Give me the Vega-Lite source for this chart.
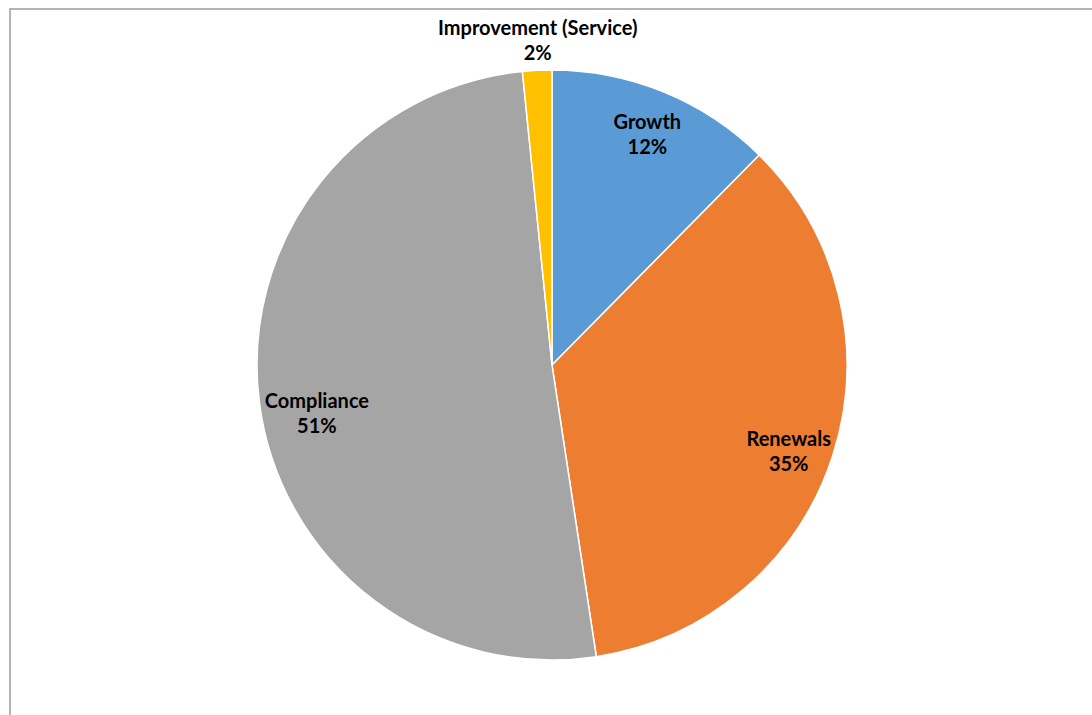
{
  "$schema": "https://vega.github.io/schema/vega-lite/v6.json",
  "autosize": "none",
  "width": 1084,
  "height": 712,
  "padding": {"left": 10, "top": 9, "right": 0, "bottom": 0},
  "background": "white",
  "view": {"stroke": "#9a9a9a", "strokeWidth": 1.5},
  "config": {"view": {"stroke": "#9a9a9a", "strokeWidth": 1.5}},
  "data": {"values": [
    {"category": "Growth", "share": 0.124, "rank": 1},
    {"category": "Renewals", "share": 0.352, "rank": 2},
    {"category": "Compliance", "share": 0.508, "rank": 3},
    {"category": "Improvement (Service)", "share": 0.016, "rank": 4}
  ]},
  "encoding": {
    "theta": {"field": "share", "type": "quantitative", "stack": true},
    "order": {"field": "rank", "type": "quantitative"},
    "color": {
      "field": "category", "type": "nominal", "legend": null,
      "scale": {"domain": ["Growth", "Renewals", "Compliance", "Improvement (Service)"],
                "range": ["#5B9BD5", "#ED7D31", "#A5A5A5", "#FFC000"]}
    }
  },
  "layer": [
    {"mark": {"type": "arc", "outerRadius": 295, "stroke": "white", "strokeWidth": 1.5}},
    {"mark": {"type": "text", "radius": 251, "dy": -10, "font": "Lato", "fontWeight": "bold", "fontSize": 20},
     "encoding": {"text": {"condition": {"test": "datum.rank == 1", "field": "category"}, "value": ""}, "color": {"value": "black"}, "detail": {"field": "category"}}},
    {"mark": {"type": "text", "radius": 251, "dy": 15, "font": "Lato", "fontWeight": "bold", "fontSize": 20},
     "encoding": {"text": {"condition": {"test": "datum.rank == 1", "field": "share", "type": "quantitative", "format": ".0%"}, "value": ""}, "color": {"value": "black"}, "detail": {"field": "category"}}},
    {"mark": {"type": "text", "radius": 251, "dy": -3, "dx": -2, "font": "Lato", "fontWeight": "bold", "fontSize": 20},
     "encoding": {"text": {"condition": {"test": "datum.rank == 2", "field": "category"}, "value": ""}, "color": {"value": "black"}, "detail": {"field": "category"}}},
    {"mark": {"type": "text", "radius": 251, "dy": 22, "dx": -2, "font": "Lato", "fontWeight": "bold", "fontSize": 20},
     "encoding": {"text": {"condition": {"test": "datum.rank == 2", "field": "share", "type": "quantitative", "format": ".0%"}, "value": ""}, "color": {"value": "black"}, "detail": {"field": "category"}}},
    {"mark": {"type": "text", "radius": 241, "dy": 7, "dx": 4, "font": "Lato", "fontWeight": "bold", "fontSize": 20},
     "encoding": {"text": {"condition": {"test": "datum.rank == 3", "field": "category"}, "value": ""}, "color": {"value": "black"}, "detail": {"field": "category"}}},
    {"mark": {"type": "text", "radius": 241, "dy": 32, "dx": 4, "font": "Lato", "fontWeight": "bold", "fontSize": 20},
     "encoding": {"text": {"condition": {"test": "datum.rank == 3", "field": "share", "type": "quantitative", "format": ".0%"}, "value": ""}, "color": {"value": "black"}, "detail": {"field": "category"}}},
    {"mark": {"type": "text", "radius": 324, "dy": -12.5, "dx": 2, "font": "Lato", "fontWeight": "bold", "fontSize": 20},
     "encoding": {"text": {"condition": {"test": "datum.rank == 4", "field": "category"}, "value": ""}, "color": {"value": "black"}, "detail": {"field": "category"}}},
    {"mark": {"type": "text", "radius": 324, "dy": 12.5, "dx": 2, "font": "Lato", "fontWeight": "bold", "fontSize": 20},
     "encoding": {"text": {"condition": {"test": "datum.rank == 4", "field": "share", "type": "quantitative", "format": ".0%"}, "value": ""}, "color": {"value": "black"}, "detail": {"field": "category"}}}
  ]
}
